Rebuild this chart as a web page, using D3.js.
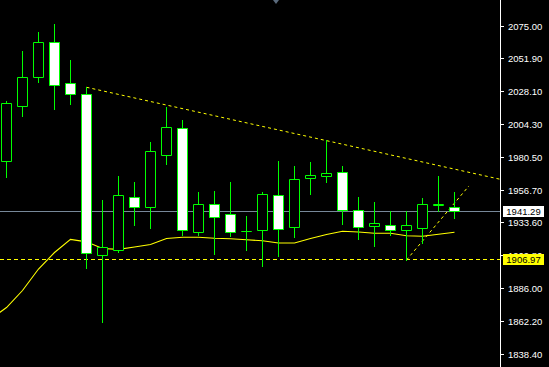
<!DOCTYPE html>
<html><head><meta charset="utf-8">
<script src="https://cdn.jsdelivr.net/npm/d3@7"></script>
<style>
html,body{margin:0;padding:0;background:#000;overflow:hidden}
svg{display:block}
</style></head>
<body>
<svg id="chart" width="549" height="367"></svg>
<script>
// ---- data ----
const opens  = [1977.4,2017.1,2038.0,2063.2,2033.7,2025.7,1909.5,1913.2,1951.4,1944.7,1982.2,2001.2,1926.6,1946.4,1939.2,1926.9,1927.6,1952.9,1929.8,1965.1,1966.6,1969.5,1942.1,1930.5,1931.2,1927.6,1929.5,1945.6,1944.2];
const highs  = [2020.9,2057.0,2070.7,2076.4,2050.5,2030.8,1949.5,1966.8,1962.5,1991.3,2016.6,2007.2,1955.3,1956.0,1962.5,1937.7,1955.3,1977.6,1974.0,1976.9,1992.8,1974.0,1951.7,1948.0,1941.3,1941.3,1950.9,1966.8,1955.3];
const lows   = [1966.3,2009.9,2034.8,2015.3,2019.0,1900.7,1861.7,1912.2,1931.7,1929.5,1975.7,1924.5,1924.5,1910.8,1923.7,1913.6,1902.1,1909.3,1923.0,1954.0,1962.7,1932.4,1921.6,1916.5,1924.5,1906.2,1918.7,1941.3,1936.7];
const closes = [2019.2,2038.0,2063.2,2032.2,2026.2,1911.0,1915.4,1952.9,1944.2,1984.6,2001.9,1927.6,1946.4,1937.4,1926.6,1926.9,1953.6,1928.8,1964.4,1967.3,1968.7,1942.1,1929.8,1932.7,1927.6,1931.2,1946.4,1946.3,1941.29];
// moving average, indices -1 .. 28
const maIndex  = [-1,0,1,2,3,4,5,6,7,8,9,10,11,12,13,14,15,16,17,18,19,20,21,22,23,24,25,26,27,28];
const maValues = [1863.6,1871.9,1884.2,1899.7,1911.6,1921.1,1919.3,1914.5,1913.9,1915.6,1917.4,1921.7,1922.6,1922.6,1921.9,1921.5,1920.8,1920.1,1918.5,1918.5,1921.7,1924.6,1926.9,1926.4,1925.5,1925.5,1923.7,1923.3,1924.8,1926.2];
const tickLabels = ["2075.00","2051.90","2028.10","2004.30","1980.50","1956.70","1933.60","1909.80","1886.00","1862.20","1838.40"];
const bidPrice = 1941.29;
const levelPrice = 1906.97;
const trend1 = [[5,2030.8],[20,1992.3]];   // ray
const trend2 = [[25,1906.2],[28.9,1959.6]]; // segment

// ---- layout ----
const W = 549, H = 367, plotRight = 500;
const svg = d3.select("#chart");
svg.append("rect").attr("width",W).attr("height",H).attr("fill","#000");

const x = d3.scaleLinear().domain([0,28]).range([6.5,454.5]);
const y = d3.scaleLinear().domain([1838.4,2075]).range([354,26]);
const py = v => Math.round(y(v));

svg.append("defs").append("clipPath").attr("id","plot")
  .append("rect").attr("x",0).attr("y",0).attr("width",plotRight).attr("height",H);
const g = svg.append("g").attr("clip-path","url(#plot)");

// bid line
g.append("line").attr("x1",0).attr("x2",plotRight).attr("y1",py(bidPrice)+0.5).attr("y2",py(bidPrice)+0.5)
  .attr("stroke","#778899").attr("stroke-width",1);

// dashed horizontal level
g.append("line").attr("x1",0).attr("x2",plotRight).attr("y1",py(levelPrice)+0.5).attr("y2",py(levelPrice)+0.5)
  .attr("stroke","#ffff00").attr("stroke-width",1).attr("stroke-dasharray","4,3");

// moving average
const maData = maIndex.map((d,i)=>[d,maValues[i]]);
g.append("path").datum(maData)
  .attr("d",d3.line().x(d=>x(d[0])).y(d=>y(d[1])))
  .attr("fill","none").attr("stroke","#ffff00").attr("stroke-width",1.1);

// trendline 1 (ray)
{
  const [a,b] = trend1;
  const slope = (b[1]-a[1])/(b[0]-a[0]);
  const endIdx = x.invert(plotRight+2);
  const endVal = a[1] + slope*(endIdx-a[0]);
  g.append("line").attr("x1",x(a[0])).attr("y1",y(a[1])).attr("x2",x(endIdx)).attr("y2",y(endVal))
    .attr("stroke","#ffff00").attr("stroke-width",1).attr("stroke-dasharray","3,3");
}
// trendline 2
g.append("line").attr("x1",x(trend2[0][0])).attr("y1",y(trend2[0][1])).attr("x2",x(trend2[1][0])).attr("y2",y(trend2[1][1]))
  .attr("stroke","#ffff00").attr("stroke-width",1).attr("stroke-dasharray","3,3");

// candles
const candles = opens.map((o,i)=>({i,o,h:highs[i],l:lows[i],c:closes[i]}));
const cg = g.selectAll("g.candle").data(candles).enter().append("g");
cg.append("line")
  .attr("x1",d=>x(d.i)).attr("x2",d=>x(d.i))
  .attr("y1",d=>py(d.h)).attr("y2",d=>py(d.l)+1)
  .attr("stroke","#00ff00").attr("stroke-width",1);
cg.append("path")
  .attr("d",d=>{
    const top = py(Math.max(d.o,d.c))+0.5, bot = py(Math.min(d.o,d.c))+0.5;
    const x0 = x(d.i)-5, x1 = x(d.i)+5;
    return `M${x0},${top}H${x1}V${bot}H${x0}Z`;
  })
  .attr("fill",d=>d.c>=d.o?"#000":"#fff")
  .attr("stroke","#00ff00").attr("stroke-width",1);

// small marker at top
svg.append("path").attr("d","M273,0L279,0L276,4Z").attr("fill","#5a6a7c");

// axis
svg.append("line").attr("x1",plotRight+0.5).attr("x2",plotRight+0.5).attr("y1",0).attr("y2",H)
  .attr("stroke","#fff").attr("stroke-width",1);
const axis = d3.axisRight(y).tickValues(tickLabels.map(Number))
  .tickFormat((d,i)=>tickLabels[i]).tickSize(3).tickSizeOuter(0).tickPadding(4);
const ag = svg.append("g").attr("transform",`translate(${plotRight+1},0)`).call(axis);
ag.select(".domain").remove();
ag.selectAll(".tick line").attr("stroke","#fff");
ag.selectAll(".tick text").attr("fill","#fff").attr("font-family","Liberation Sans, Arial, sans-serif").attr("font-size","9.5px");

// price labels
function priceBox(v, bg){
  const cy = py(v)+0.5;
  svg.append("rect").attr("x",503).attr("y",cy-5.5).attr("width",41).attr("height",11).attr("fill",bg);
  svg.append("text").attr("x",523.5).attr("y",cy).attr("dy","0.35em").attr("text-anchor","middle")
    .attr("font-family","Liberation Sans, Arial, sans-serif").attr("font-size","9.5px").attr("fill","#000")
    .text(d3.format(".2f")(v));
}
priceBox(bidPrice,"#ffffff");
priceBox(levelPrice,"#ffff00");
</script>
</body></html>
